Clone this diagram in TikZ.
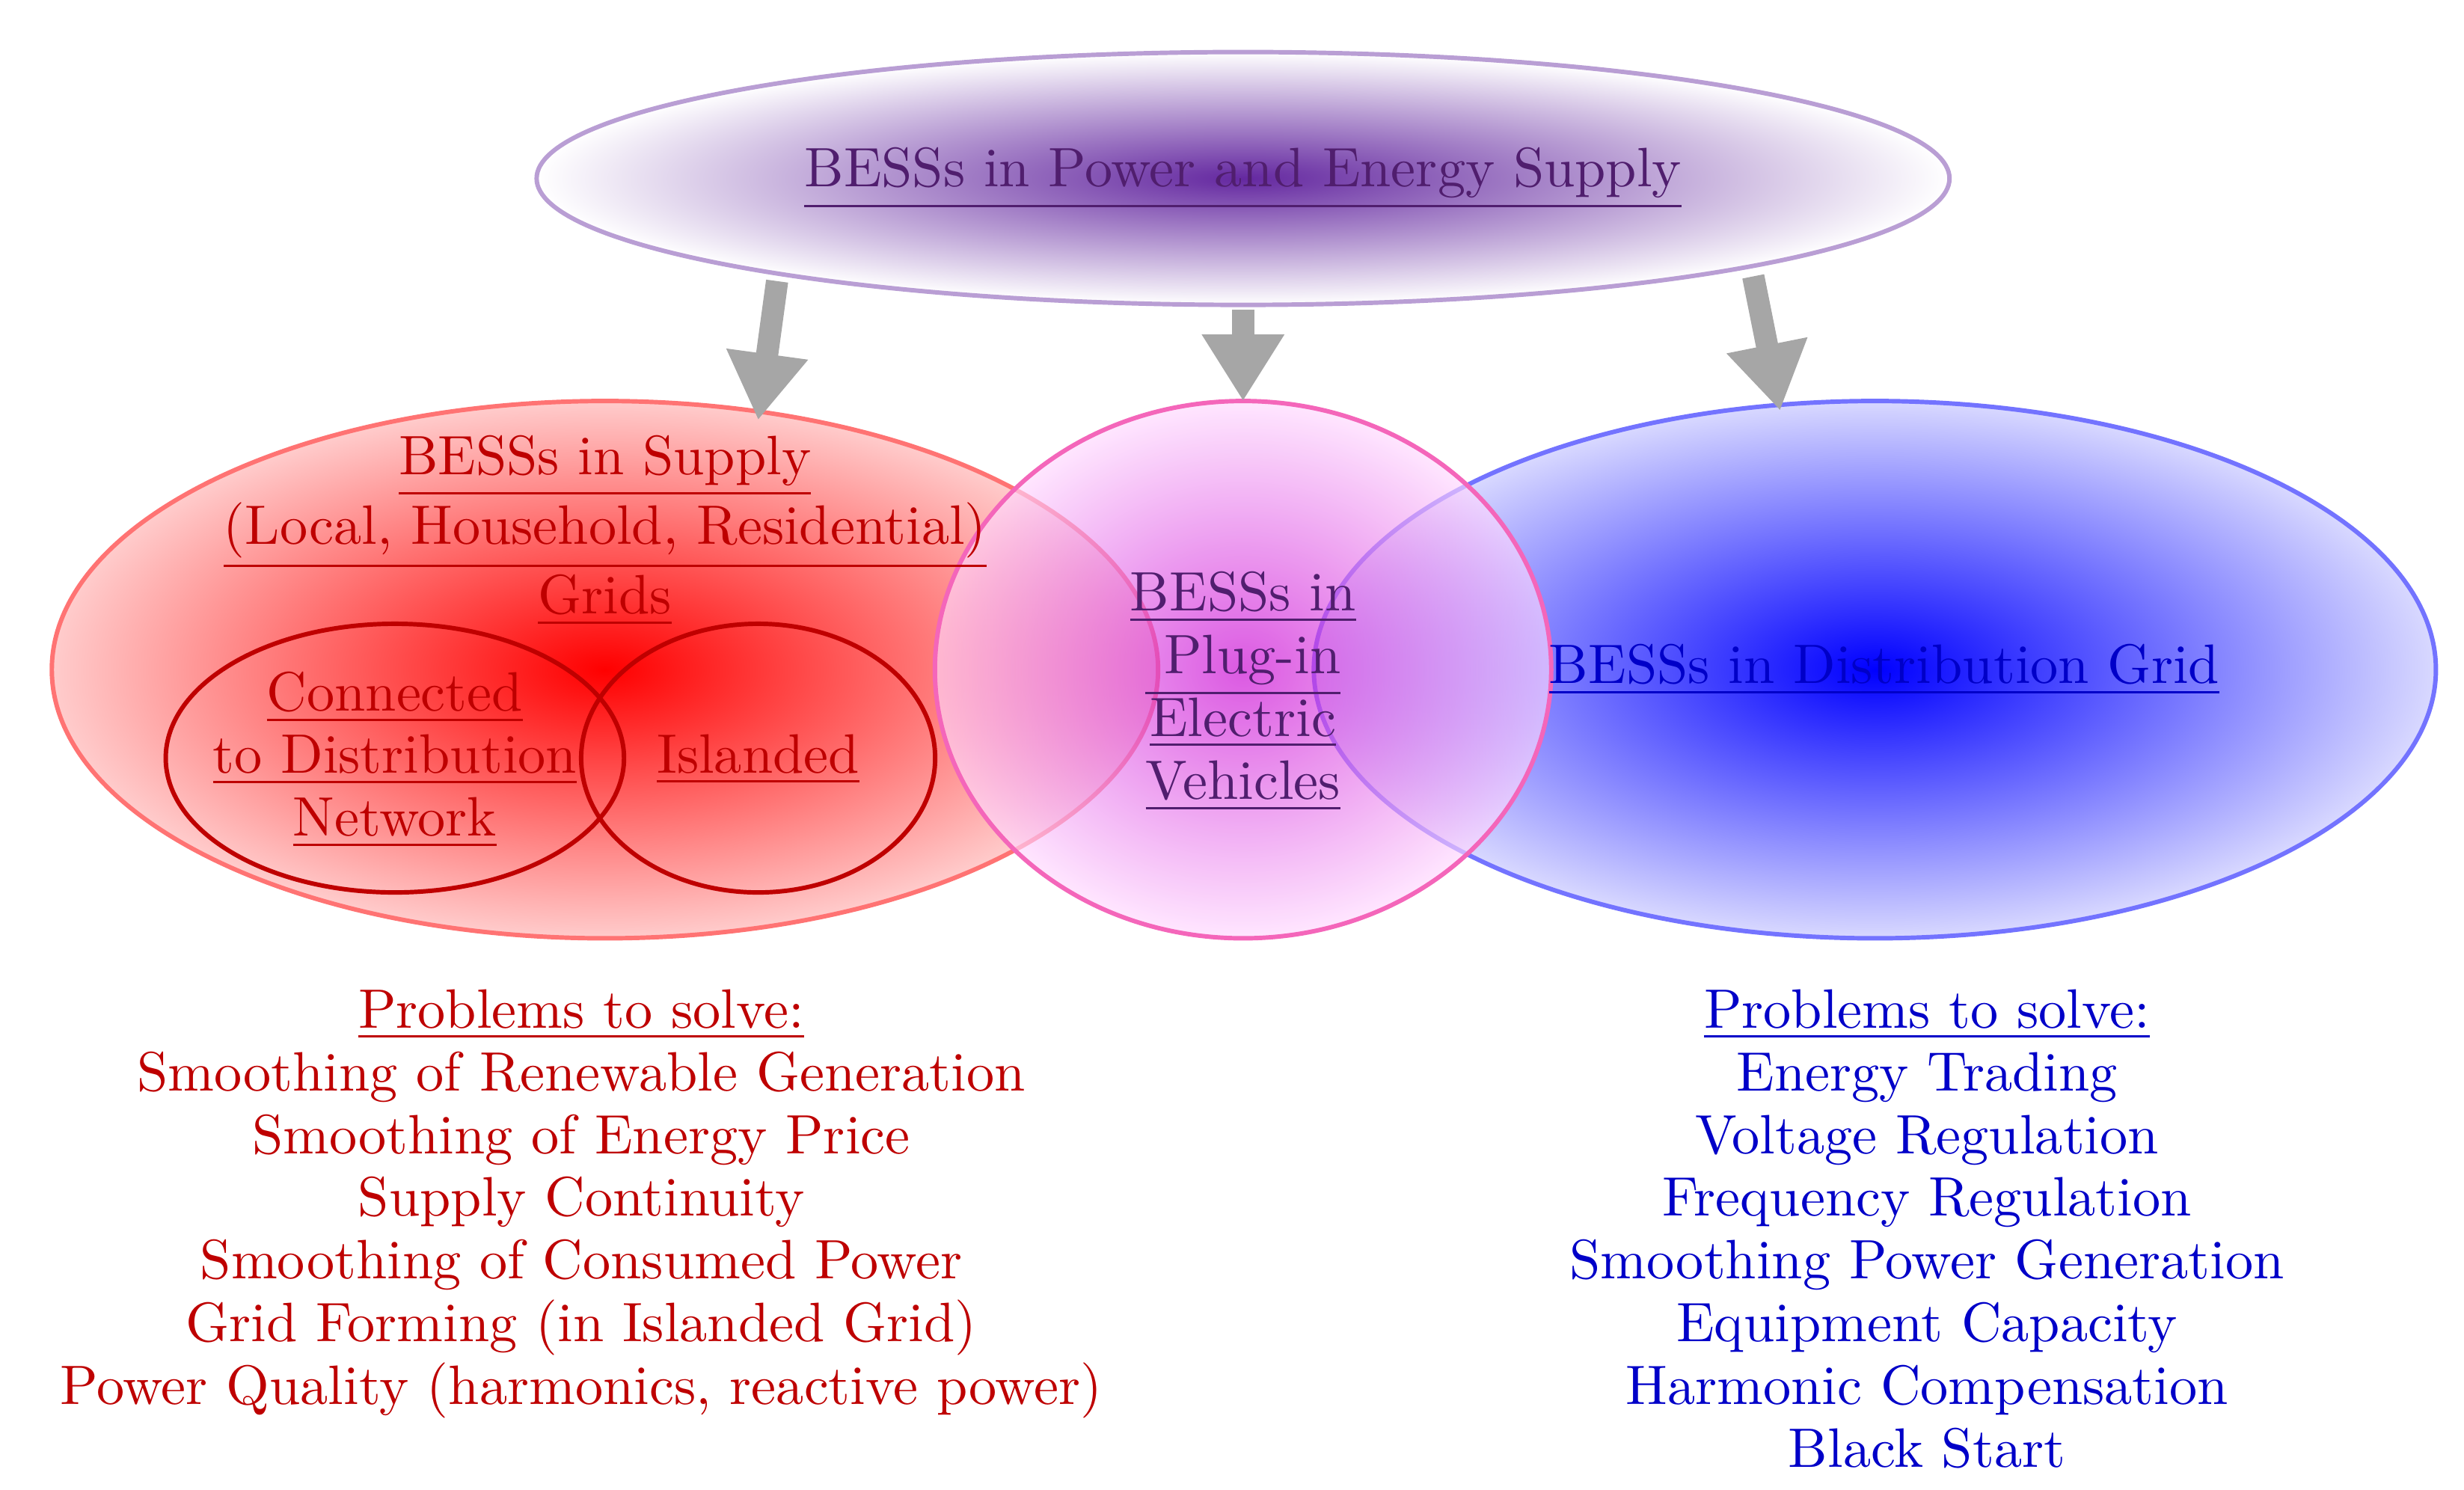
\documentclass[tikz,border=0pt]{standalone}
\usetikzlibrary{shapes.geometric,arrows.meta}
\definecolor{redtxt}{RGB}{190,0,0}
\definecolor{bluetxt}{RGB}{0,0,200}
\definecolor{purptxt}{RGB}{80,30,110}
\definecolor{topin}{RGB}{100,40,160}
\definecolor{evin}{RGB}{200,0,210}
\begin{document}
\begin{tikzpicture}[x=0.01cm,y=-0.01cm,
  ell/.style={ellipse, inner sep=0pt, line width=0.8pt},
  lbl/.style={align=center, font=\fontsize{10}{11.3}\selectfont},
  arr/.style={line width=4pt, draw=gray!70, -{Triangle[length=12pt,width=14pt]}}]
\useasboundingbox (0,0) rectangle (1560,943);
% main ellipses
\node[ell, minimum width=8.94cm, minimum height=1.6cm, draw=topin!45,
  inner color=topin, outer color=white] (top) at (787,113) {};
\node[ell, minimum width=7cm, minimum height=3.4cm, draw=red!55,
  inner color=red, outer color=red!20] (supply) at (383,424) {};
\node[ell, minimum width=7.1cm, minimum height=3.4cm, draw=blue!55,
  inner color=blue, outer color=blue!15] (dist) at (1187,424) {};
\node[ell, minimum width=3.9cm, minimum height=3.4cm, draw=magenta!60,
  inner color=evin, outer color=magenta!15, fill opacity=0.65] (ev) at (787,424) {};
\node[ell, minimum width=2.9cm, minimum height=1.7cm, draw=red!75!black] (conn) at (250,480) {};
\node[ell, minimum width=2.24cm, minimum height=1.7cm, draw=red!75!black] (isl) at (480,480) {};
% labels
\node[lbl, text=purptxt] (ttop) at (787,113) {\underline{BESSs in Power and Energy Supply}};
\node[lbl, text=redtxt] (tsup) at (383,336) {\underline{BESSs in Supply}\\\underline{(Local, Household, Residential)}\\\underline{Grids}};
\node[lbl, text=redtxt] (tconn) at (250,481) {\underline{Connected}\\\underline{to Distribution}\\\underline{Network}};
\node[lbl, text=redtxt] (tisl) at (480,481) {\underline{Islanded}};
\node[lbl, text=purptxt] (tev) at (787,438) {\underline{BESSs in}\\\underline{\ Plug-in}\\\underline{Electric}\\\underline{Vehicles}};
\node[lbl, text=bluetxt] (tdist) at (1193,424) {\underline{BESSs in Distribution Grid}};
\node[lbl, text=redtxt, anchor=north] (psup) at (368,614) {\underline{Problems to solve:}\\Smoothing of Renewable Generation\\Smoothing of Energy Price\\Supply Continuity\\Smoothing of Consumed Power\\Grid Forming (in Islanded Grid)\\Power Quality (harmonics, reactive power)};
\node[lbl, text=bluetxt, anchor=north] (pdist) at (1220,614) {\underline{Problems to solve:}\\Energy Trading\\Voltage Regulation\\Frequency Regulation\\Smoothing Power Generation\\Equipment Capacity\\Harmonic Compensation\\Black Start};
% arrows
\coordinate (a1s) at (492,178); \coordinate (a1e) at (480,266);
\coordinate (a2s) at (787,196); \coordinate (a2e) at (787,254);
\coordinate (a3s) at (1110,175); \coordinate (a3e) at (1127,260);
\draw[arr] (a1s) -- (a1e);
\draw[arr] (a2s) -- (a2e);
\draw[arr] (a3s) -- (a3e);
\end{tikzpicture}
\end{document}
